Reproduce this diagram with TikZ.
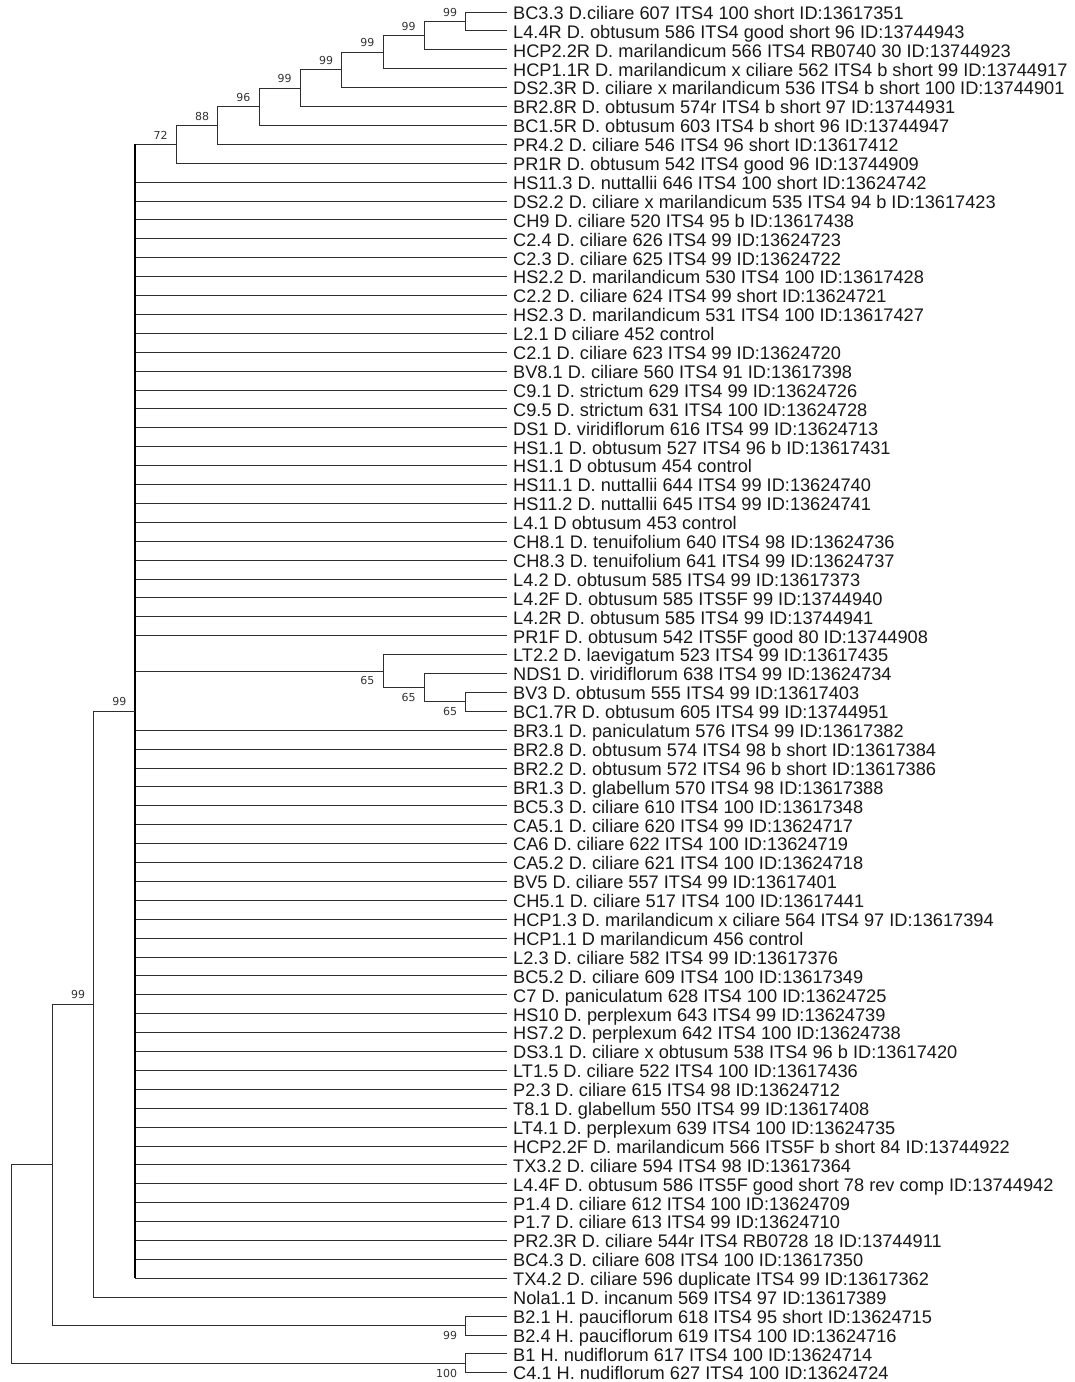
\documentclass[tikz,border=0pt]{standalone}
\usepackage{fontspec}
\setmainfont{Liberation Sans}
\newfontfamily\bsfont{DejaVu Sans}
\begin{document}
\begin{tikzpicture}[x=1pt,y=-1pt,
  leaf/.style={anchor=west,inner xsep=6pt,inner ysep=0pt,text height=14.6pt,text depth=0pt,font=\fontsize{18.2}{20}\selectfont,text=black!90},
  br/.style={draw=black!82,line width=1pt},
  polyline/.style={draw=black,line width=1.8pt},
  bsa/.style={anchor=south east,inner sep=0pt,font=\bsfont\fontsize{11}{12}\selectfont,text=black!80},
  bsb/.style={anchor=north east,inner sep=0pt,font=\bsfont\fontsize{11}{12}\selectfont,text=black!80}]
\useasboundingbox (0,0) rectangle (1075,1382);
% leaves
\node[leaf] (t1) at (507,12.0) {BC3.3 D.ciliare 607 ITS4 100 short ID:13617351};
\node[leaf] (t2) at (507,30.9) {L4.4R D. obtusum 586 ITS4 good short 96 ID:13744943};
\node[leaf] (t3) at (507,49.8) {HCP2.2R D. marilandicum 566 ITS4 RB0740 30 ID:13744923};
\node[leaf] (t4) at (507,68.7) {HCP1.1R D. marilandicum x ciliare 562 ITS4 b short 99 ID:13744917};
\node[leaf] (t5) at (507,87.6) {DS2.3R D. ciliare x marilandicum 536 ITS4 b short 100 ID:13744901};
\node[leaf] (t6) at (507,106.5) {BR2.8R D. obtusum 574r ITS4 b short 97 ID:13744931};
\node[leaf] (t7) at (507,125.4) {BC1.5R D. obtusum 603 ITS4 b short 96 ID:13744947};
\node[leaf] (t8) at (507,144.3) {PR4.2 D. ciliare 546 ITS4 96 short ID:13617412};
\node[leaf] (t9) at (507,163.2) {PR1R D. obtusum 542 ITS4 good 96 ID:13744909};
\node[leaf] (t10) at (507,182.1) {HS11.3 D. nuttallii 646 ITS4 100 short ID:13624742};
\node[leaf] (t11) at (507,201.0) {DS2.2 D. ciliare x marilandicum 535 ITS4 94 b ID:13617423};
\node[leaf] (t12) at (507,219.9) {CH9 D. ciliare 520 ITS4 95 b ID:13617438};
\node[leaf] (t13) at (507,238.8) {C2.4 D. ciliare 626 ITS4 99 ID:13624723};
\node[leaf] (t14) at (507,257.7) {C2.3 D. ciliare 625 ITS4 99 ID:13624722};
\node[leaf] (t15) at (507,276.6) {HS2.2 D. marilandicum 530 ITS4 100 ID:13617428};
\node[leaf] (t16) at (507,295.5) {C2.2 D. ciliare 624 ITS4 99 short ID:13624721};
\node[leaf] (t17) at (507,314.4) {HS2.3 D. marilandicum 531 ITS4 100 ID:13617427};
\node[leaf] (t18) at (507,333.3) {L2.1 D ciliare 452 control};
\node[leaf] (t19) at (507,352.2) {C2.1 D. ciliare 623 ITS4 99 ID:13624720};
\node[leaf] (t20) at (507,371.1) {BV8.1 D. ciliare 560 ITS4 91 ID:13617398};
\node[leaf] (t21) at (507,390.0) {C9.1 D. strictum 629 ITS4 99 ID:13624726};
\node[leaf] (t22) at (507,408.9) {C9.5 D. strictum 631 ITS4 100 ID:13624728};
\node[leaf] (t23) at (507,427.8) {DS1 D. viridiflorum 616 ITS4 99 ID:13624713};
\node[leaf] (t24) at (507,446.7) {HS1.1 D. obtusum 527 ITS4 96 b ID:13617431};
\node[leaf] (t25) at (507,465.6) {HS1.1 D obtusum 454 control};
\node[leaf] (t26) at (507,484.5) {HS11.1 D. nuttallii 644 ITS4 99 ID:13624740};
\node[leaf] (t27) at (507,503.4) {HS11.2 D. nuttallii 645 ITS4 99 ID:13624741};
\node[leaf] (t28) at (507,522.3) {L4.1 D obtusum 453 control};
\node[leaf] (t29) at (507,541.2) {CH8.1 D. tenuifolium 640 ITS4 98 ID:13624736};
\node[leaf] (t30) at (507,560.1) {CH8.3 D. tenuifolium 641 ITS4 99 ID:13624737};
\node[leaf] (t31) at (507,579.0) {L4.2 D. obtusum 585 ITS4 99 ID:13617373};
\node[leaf] (t32) at (507,597.9) {L4.2F D. obtusum 585 ITS5F 99 ID:13744940};
\node[leaf] (t33) at (507,616.8) {L4.2R D. obtusum 585 ITS4 99 ID:13744941};
\node[leaf] (t34) at (507,635.7) {PR1F D. obtusum 542 ITS5F good 80 ID:13744908};
\node[leaf] (t35) at (507,654.6) {LT2.2 D. laevigatum 523 ITS4 99 ID:13617435};
\node[leaf] (t36) at (507,673.5) {NDS1 D. viridiflorum 638 ITS4 99 ID:13624734};
\node[leaf] (t37) at (507,692.4) {BV3 D. obtusum 555 ITS4 99 ID:13617403};
\node[leaf] (t38) at (507,711.3) {BC1.7R D. obtusum 605 ITS4 99 ID:13744951};
\node[leaf] (t39) at (507,730.2) {BR3.1 D. paniculatum 576 ITS4 99 ID:13617382};
\node[leaf] (t40) at (507,749.1) {BR2.8 D. obtusum 574 ITS4 98 b short ID:13617384};
\node[leaf] (t41) at (507,768.0) {BR2.2 D. obtusum 572 ITS4 96 b short ID:13617386};
\node[leaf] (t42) at (507,786.9) {BR1.3 D. glabellum 570 ITS4 98 ID:13617388};
\node[leaf] (t43) at (507,805.8) {BC5.3 D. ciliare 610 ITS4 100 ID:13617348};
\node[leaf] (t44) at (507,824.7) {CA5.1 D. ciliare 620 ITS4 99 ID:13624717};
\node[leaf] (t45) at (507,843.6) {CA6 D. ciliare 622 ITS4 100 ID:13624719};
\node[leaf] (t46) at (507,862.5) {CA5.2 D. ciliare 621 ITS4 100 ID:13624718};
\node[leaf] (t47) at (507,881.4) {BV5 D. ciliare 557 ITS4 99 ID:13617401};
\node[leaf] (t48) at (507,900.3) {CH5.1 D. ciliare 517 ITS4 100 ID:13617441};
\node[leaf] (t49) at (507,919.2) {HCP1.3 D. marilandicum x ciliare 564 ITS4 97 ID:13617394};
\node[leaf] (t50) at (507,938.1) {HCP1.1 D marilandicum 456 control};
\node[leaf] (t51) at (507,957.0) {L2.3 D. ciliare 582 ITS4 99 ID:13617376};
\node[leaf] (t52) at (507,975.9) {BC5.2 D. ciliare 609 ITS4 100 ID:13617349};
\node[leaf] (t53) at (507,994.8) {C7 D. paniculatum 628 ITS4 100 ID:13624725};
\node[leaf] (t54) at (507,1013.7) {HS10 D. perplexum 643 ITS4 99 ID:13624739};
\node[leaf] (t55) at (507,1032.6) {HS7.2 D. perplexum 642 ITS4 100 ID:13624738};
\node[leaf] (t56) at (507,1051.5) {DS3.1 D. ciliare x obtusum 538 ITS4 96 b ID:13617420};
\node[leaf] (t57) at (507,1070.4) {LT1.5 D. ciliare 522 ITS4 100 ID:13617436};
\node[leaf] (t58) at (507,1089.3) {P2.3 D. ciliare 615 ITS4 98 ID:13624712};
\node[leaf] (t59) at (507,1108.2) {T8.1 D. glabellum 550 ITS4 99 ID:13617408};
\node[leaf] (t60) at (507,1127.1) {LT4.1 D. perplexum 639 ITS4 100 ID:13624735};
\node[leaf] (t61) at (507,1146.0) {HCP2.2F D. marilandicum 566 ITS5F b short 84 ID:13744922};
\node[leaf] (t62) at (507,1164.9) {TX3.2 D. ciliare 594 ITS4 98 ID:13617364};
\node[leaf] (t63) at (507,1183.8) {L4.4F D. obtusum 586 ITS5F good short 78 rev comp ID:13744942};
\node[leaf] (t64) at (507,1202.7) {P1.4 D. ciliare 612 ITS4 100 ID:13624709};
\node[leaf] (t65) at (507,1221.6) {P1.7 D. ciliare 613 ITS4 99 ID:13624710};
\node[leaf] (t66) at (507,1240.5) {PR2.3R D. ciliare 544r ITS4 RB0728 18 ID:13744911};
\node[leaf] (t67) at (507,1259.4) {BC4.3 D. ciliare 608 ITS4 100 ID:13617350};
\node[leaf] (t68) at (507,1278.3) {TX4.2 D. ciliare 596 duplicate ITS4 99 ID:13617362};
\node[leaf] (t69) at (507,1297.2) {Nola1.1 D. incanum 569 ITS4 97 ID:13617389};
\node[leaf] (t70) at (507,1316.1) {B2.1 H. pauciflorum 618 ITS4 95 short ID:13624715};
\node[leaf] (t71) at (507,1335.0) {B2.4 H. pauciflorum 619 ITS4 100 ID:13624716};
\node[leaf] (t72) at (507,1353.9) {B1 H. nudiflorum 617 ITS4 100 ID:13624714};
\node[leaf] (t73) at (507,1372.3) {C4.1 H. nudiflorum 627 ITS4 100 ID:13624724};
% internal nodes
\coordinate (a1) at (465.7,21.45);
\coordinate (a2) at (424.3,35.63);
\coordinate (a3) at (383.0,52.16);
\coordinate (a4) at (341.7,69.88);
\coordinate (a5) at (300.3,88.19);
\coordinate (a6) at (259.0,106.8);
\coordinate (a7) at (217.7,125.55);
\coordinate (a8) at (176.3,144.37);
\coordinate (P) at (135.0,711.34);
\coordinate (b1) at (465.7,701.85);
\coordinate (b2) at (424.3,687.7);
\coordinate (b3) at (383.0,671.1);
\coordinate (n93) at (93.7,1004.27);
\coordinate (c1) at (465.7,1325.55);
\coordinate (n52) at (52.3,1164.9);
\coordinate (d1) at (465.7,1363.1);
\coordinate (root) at (11.0,1264.0);
% branches
\draw[br] (a1) |- (t1.west); \draw[br] (a1) |- (t2.west);
\draw[br] (a2) |- (a1); \draw[br] (a2) |- (t3.west);
\draw[br] (a3) |- (a2); \draw[br] (a3) |- (t4.west);
\draw[br] (a4) |- (a3); \draw[br] (a4) |- (t5.west);
\draw[br] (a5) |- (a4); \draw[br] (a5) |- (t6.west);
\draw[br] (a6) |- (a5); \draw[br] (a6) |- (t7.west);
\draw[br] (a7) |- (a6); \draw[br] (a7) |- (t8.west);
\draw[br] (a8) |- (a7); \draw[br] (a8) |- (t9.west);
\draw[br] (P) |- (a8);
\foreach \i in {10,...,34} \draw[br] (P) |- (t\i.west);
\draw[br] (P) |- (b3);
\foreach \i in {39,...,68} \draw[br] (P) |- (t\i.west);
\draw[polyline] (P |- a8) -- (P |- t68.west);
\draw[br] (b1) |- (t37.west); \draw[br] (b1) |- (t38.west);
\draw[br] (b2) |- (t36.west); \draw[br] (b2) |- (b1);
\draw[br] (b3) |- (t35.west); \draw[br] (b3) |- (b2);
\draw[br] (n93) |- (P); \draw[br] (n93) |- (t69.west);
\draw[br] (c1) |- (t70.west); \draw[br] (c1) |- (t71.west);
\draw[br] (n52) |- (n93); \draw[br] (n52) |- (c1);
\draw[br] (d1) |- (t72.west); \draw[br] (d1) |- (t73.west);
\draw[br] (root) |- (n52); \draw[br] (root) |- (d1);
% bootstrap values
\node[bsa] (s1) at (457.2,16.4) {99};
\node[bsa] (s2) at (415.8,30.6) {99};
\node[bsa] (s3) at (374.5,47.2) {99};
\node[bsa] (s4) at (333.2,64.9) {99};
\node[bsa] (s5) at (291.8,83.2) {99};
\node[bsa] (s6) at (250.5,101.8) {96};
\node[bsa] (s7) at (209.2,120.5) {88};
\node[bsa] (s8) at (167.8,139.4) {72};
\node[bsa] (sP) at (126.5,706.3) {99};
\node[bsa] (s93) at (85.2,999.3) {99};
\node[bsb] (sb3) at (374.5,676.6) {65};
\node[bsb] (sb2) at (415.8,693.2) {65};
\node[bsb] (sb1) at (457.2,707.4) {65};
\node[bsb] (sc1) at (457.2,1331.1) {99};
\node[bsb] (sd1) at (457.2,1368.9) {100};
\end{tikzpicture}
\end{document}
